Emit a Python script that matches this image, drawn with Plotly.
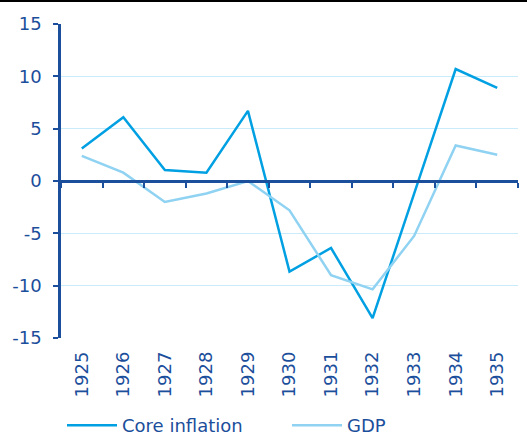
import plotly.graph_objects as go

years = ["1925", "1926", "1927", "1928", "1929", "1930", "1931", "1932", "1933", "1934", "1935"]
core_inflation = [3.1, 6.1, 1.05, 0.8, 6.7, -8.65, -6.4, -13.1, -1.2, 10.7, 8.9]
gdp = [2.4, 0.8, -2.0, -1.2, 0.0, -2.8, -9.0, -10.35, -5.25, 3.4, 2.5]
y_ticks = [15, 10, 5, 0, -5, -10, -15]
y_ticktext = ["15", "10", "5", "0", "-5", "-10", "-15"]

DARK = "#1b4e9b"
CORE = "#00a0e2"
GDPC = "#8fd2f2"
GRID = "#c9ebfa"
FONT = "DejaVu Sans"

fig = go.Figure()
fig.add_trace(go.Scatter(x=years, y=core_inflation, mode="lines", name="Core inflation",
                         line=dict(color=CORE, width=2.5), legend="legend"))
fig.add_trace(go.Scatter(x=years, y=gdp, mode="lines", name="GDP",
                         line=dict(color=GDPC, width=2.5), legend="legend2"))
# invisible helper trace for the zero-line axis
fig.add_trace(go.Scatter(x=years, y=gdp, mode="lines", xaxis="x2", yaxis="y",
                         line=dict(width=0), opacity=0, showlegend=False, hoverinfo="skip"))

legend_common = dict(orientation="h", xref="container", xanchor="left",
                     yref="container", y=0.022, yanchor="middle",
                     font=dict(family=FONT, size=18, color=DARK),
                     itemwidth=50, bgcolor="rgba(0,0,0,0)")

fig.update_layout(
    width=527, height=435,
    margin=dict(l=61, r=9, t=24, b=97, autoexpand=False),
    paper_bgcolor="white", plot_bgcolor="white",
    font=dict(family=FONT, size=18, color=DARK),
    showlegend=True,
    legend=dict(x=62 / 527, **legend_common),
    legend2=dict(x=287 / 527, **legend_common),
    xaxis=dict(type="category", categoryarray=years, range=[-0.5, 10.5],
               showgrid=False, showline=False, ticks="", zeroline=False, automargin=False,
               tickangle=-90, ticklabelstandoff=9,
               tickfont=dict(family=FONT, size=18, color=DARK)),
    xaxis2=dict(type="category", categoryarray=years, range=[-0.5, 10.5],
                overlaying="x", anchor="free", position=0.5, side="bottom",
                showline=True, linecolor=DARK, linewidth=2.5, automargin=False,
                ticks="outside", tickson="boundaries", ticklen=5, tickwidth=2, tickcolor=DARK,
                showticklabels=False, showgrid=False, zeroline=False),
    yaxis=dict(range=[-15, 15], tickvals=y_ticks, ticktext=y_ticktext,
               showgrid=True, gridcolor=GRID, gridwidth=1, automargin=False,
               showline=True, linecolor=DARK, linewidth=2.5, zeroline=False,
               ticks="outside", ticklen=5, tickwidth=2, tickcolor=DARK,
               ticklabelstandoff=8,
               tickfont=dict(family=FONT, size=18, color=DARK)),
)

fig.add_shape(type="line", xref="paper", yref="paper", x0=-0.2, x1=1.1, y0=1.0732, y1=1.0732,
              line=dict(color="black", width=2))

fig.write_html("out.html", config={"displayModeBar": False},
               post_script="document.body.style.margin='0';")
